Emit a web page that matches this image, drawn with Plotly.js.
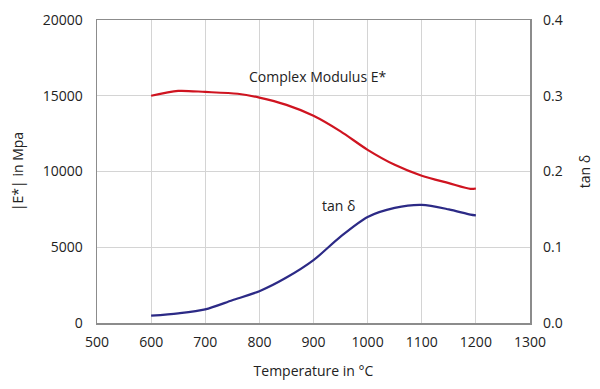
<!DOCTYPE html>
<html>
<head>
<meta charset="utf-8">
<script src="https://cdn.plot.ly/plotly-3.0.1.min.js"></script>
<style>html,body{margin:0;padding:0;background:#fff;}#chart{width:600px;height:389px;}</style>
</head>
<body>
<div id="chart"></div>
<script>
const temperature = [600, 650, 700, 760, 800, 850, 900, 950, 1000, 1050, 1100, 1150, 1190, 1200];
const modulus = [15000, 15320, 15250, 15130, 14880, 14400, 13680, 12650, 11430, 10440, 9720, 9230, 8850, 8880];
const tanTemp = [600, 650, 700, 750, 800, 850, 900, 950, 1000, 1050, 1100, 1150, 1190, 1200];
const tanDelta = [0.0097, 0.0128, 0.018, 0.030, 0.042, 0.060, 0.083, 0.114, 0.140, 0.152, 0.156, 0.150, 0.143, 0.142];
const xTicks = [500, 600, 700, 800, 900, 1000, 1100, 1200, 1300];
const yTicks = [0, 5000, 10000, 15000, 20000];
const y2Ticks = [0, 0.1, 0.2, 0.3, 0.4];
const y2Labels = ["0.0", "0.1", "0.2", "0.3", "0.4"];

const font = {family: "Open Sans, Noto Sans, sans-serif", size: 14, color: "#222"};

const traces = [
  {x: temperature, y: modulus, type: "scatter", mode: "lines", line: {color: "#cf1420", width: 2.2, shape: "spline", smoothing: 0.8}, yaxis: "y", hoverinfo: "skip"},
  {x: tanTemp, y: tanDelta, type: "scatter", mode: "lines", line: {color: "#2c2a86", width: 2.2, shape: "spline", smoothing: 0.8}, yaxis: "y2", hoverinfo: "skip"}
];

const layout = {
  width: 600, height: 389,
  margin: {l: 97, r: 70, t: 20, b: 66},
  paper_bgcolor: "#fff", plot_bgcolor: "#fff",
  showlegend: false,
  font: font,
  xaxis: {
    range: [500, 1300], tickvals: xTicks, ticktext: xTicks.map(String),
    showgrid: true, gridcolor: "#d4d4d4", gridwidth: 1,
    showline: true, linecolor: "#8c8c8c", linewidth: 1.5, mirror: true,
    ticks: "", zeroline: false, tickfont: font, ticklabelstandoff: 6,
    title: {text: "Temperature in °C", font: font, standoff: 16}
  },
  yaxis: {
    range: [0, 20000], tickvals: yTicks, ticktext: yTicks.map(String),
    showgrid: true, gridcolor: "#d4d4d4", gridwidth: 1,
    showline: true, linecolor: "#8c8c8c", linewidth: 1.5, mirror: true,
    ticks: "", zeroline: false, tickfont: font, ticklabelstandoff: 10,
    title: {text: "|E*| in Mpa", font: font, standoff: 16}
  },
  yaxis2: {
    range: [0, 0.4], tickvals: y2Ticks, ticktext: y2Labels,
    overlaying: "y", side: "right", showgrid: false, showline: false,
    ticks: "", zeroline: false, tickfont: font, ticklabelstandoff: 12,
    title: {text: "tan δ", font: font, standoff: 18}
  },
  annotations: [
    {x: 908, y: 16260, xref: "x", yref: "y", text: "Complex Modulus E*", showarrow: false, font: font},
    {x: 947, y: 0.1548, xref: "x", yref: "y2", text: "tan δ", showarrow: false, font: font}
  ]
};

Plotly.newPlot("chart", traces, layout, {staticPlot: true, displayModeBar: false});
</script>
</body>
</html>
